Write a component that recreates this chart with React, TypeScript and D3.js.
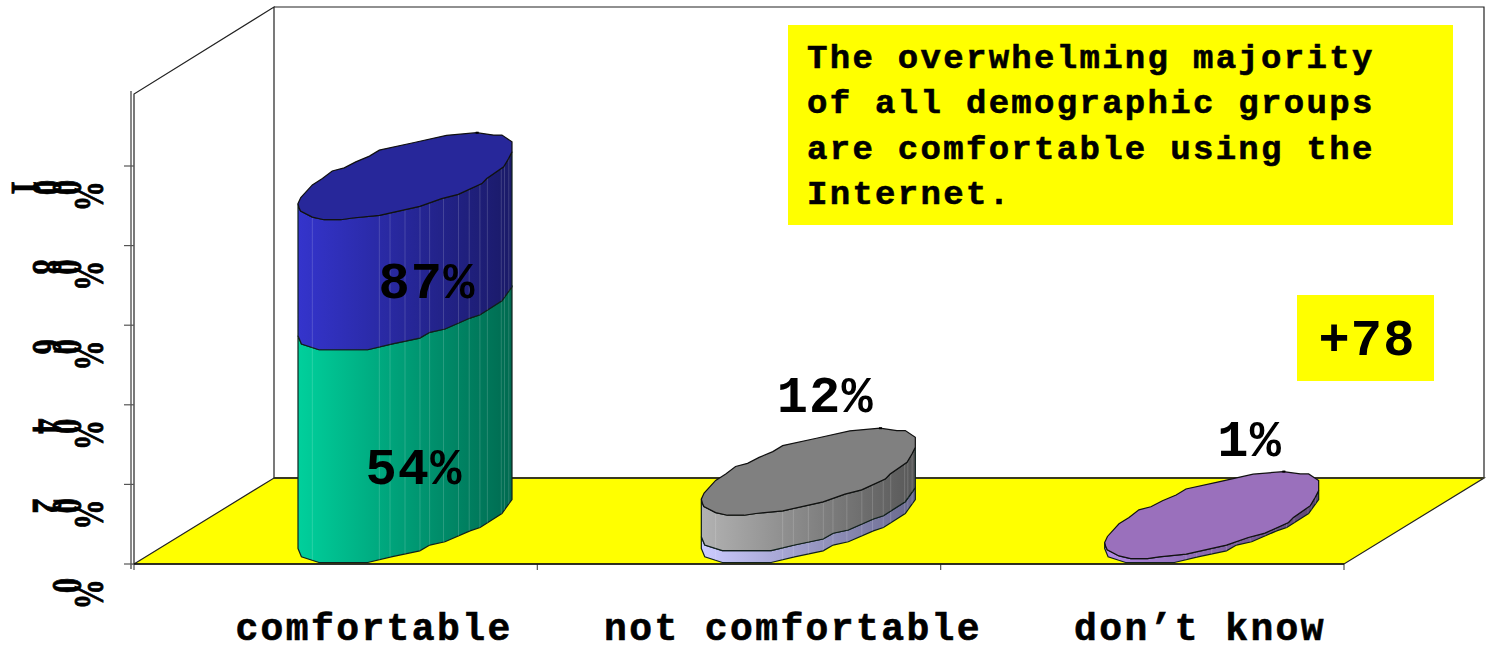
import React from 'react';
import * as d3 from 'd3';

const width = 1489;
const height = 645;

const categories = ['comfortable', 'not comfortable', 'don\u2019t know'];
// each bar is a stack of segments, bottom first
const lowerValues = [54, 3, 1];
const upperValues = [33, 9, 0];
const barLabels = ['54%', '12%', '1%'];
const upperLabels = ['87%', '', ''];
const yTicks = [0, 20, 40, 60, 80, 100];
const noteLines = [
  'The overwhelming majority',
  'of all demographic groups',
  'are comfortable using the',
  'Internet.',
];

// hand-traced footprint of the bar, in unit coords (u across, v front-to-back)
const backArc: [number, number][] = [
  [0, 0.815], [0.013, 0.746], [0.067, 0.6], [0.114, 0.527], [0.16, 0.44], [0.216, 0.404],
  [0.27, 0.335], [0.334, 0.269], [0.38, 0.2], [0.538, 0.115], [0.694, 0.03], [0.835, 0],
  [0.914, 0.027], [0.953, 0.027], [1, 0.104],
];
const faceFront: [number, number][] = [
  [0, 0.815], [0.005, 0.862], [0.012, 0.9], [0.067, 0.97], [0.122, 1], [0.2, 1],
  [0.255, 0.98], [0.381, 0.95], [0.569, 0.846], [0.671, 0.758], [0.749, 0.708], [0.859, 0.585],
  [0.882, 0.527], [0.961, 0.392], [0.984, 0.296], [1, 0.219],
];
const sideFront: [number, number][] = [
  [0, 0.84], [0.016, 0.935], [0.098, 1], [0.326, 1], [0.436, 0.935], [0.569, 0.866],
  [0.616, 0.8], [0.687, 0.762], [0.804, 0.636], [0.851, 0.598], [0.953, 0.437], [1, 0.276],
];
const facets = [0.067, 0.38, 0.43, 0.5, 0.57, 0.615, 0.68, 0.75, 0.8, 0.85, 0.885, 0.95, 0.965, 0.985];

const palettes = [
  { lower: ['#00d09c', '#006a50'], upper: ['#3434cc', '#1a1a68'], top: '#27279a' },
  { lower: ['#ccccff', '#68688c'], upper: ['#b2b2b2', '#585858'], top: '#808080' },
  { lower: ['#b48ae6', '#5c4672'], upper: ['#b48ae6', '#5c4672'], top: '#9a70bc' },
];

const floorLeft = 134;
const floorRight = 1344;
const floorFront = 564;
const floorBack = 478;
const wallTop = 7;
const depthX = 140;

const x = d3.scaleBand<string>().domain(categories).range([floorLeft, floorRight]);
const yAxis = d3.scaleLinear().domain([0, 100]).range([564, 166]);
const yBar = d3.scaleLinear().domain([0, 100]).range([562.5, 168.5]);
const barOffset = 164;
const barWidth = 214;
const barDepth = 87;

const line = d3.line<[number, number]>();
const sideV = d3.scaleLinear().domain(sideFront.map(p => p[0])).range(sideFront.map(p => p[1]));
const faceV = d3.scaleLinear().domain(faceFront.map(p => p[0])).range(faceFront.map(p => p[1]));

const place = (cat: string, level: number, pts: [number, number][]) =>
  pts.map(([u, v]) => [
    (x(cat) as number) + barOffset + u * barWidth,
    yBar(level) - barDepth + v * barDepth,
  ] as [number, number]);

const Side = ({ cat, from, to, fill, capped }: { cat: string; from: number; to: number; fill: string; capped: boolean }) => {
  const bottom = place(cat, from, sideFront);
  const upper = place(cat, to, capped ? faceFront : sideFront).reverse();
  const vTop = capped ? faceV : sideV;
  return (
    <g>
      <path d={line([...bottom, ...upper]) + 'Z'} fill={fill} stroke="#10201c" strokeWidth={1.2} />
      {facets.map(u => {
        const px = (x(cat) as number) + barOffset + u * barWidth;
        return (
          <line
            key={u}
            x1={px}
            x2={px}
            y1={yBar(from) - barDepth + sideV(u) * barDepth}
            y2={yBar(to) - barDepth + vTop(u) * barDepth}
            stroke="#fff"
            strokeOpacity={0.16}
          />
        );
      })}
    </g>
  );
};

// axis glyphs are turned a quarter clockwise and squeezed along the baseline
const RotatedLabel = ({ value, y }: { value: number; y: number }) => {
  const chars = `${value}%`.split('');
  return (
    <g fontFamily="'Liberation Serif'" fontWeight="bold" fontSize={43} fill="#000" stroke="#000" strokeWidth={0.9}>
      {chars.map((c, i) => {
        const fromEnd = chars.length - 1 - i;
        const cx = fromEnd === 0 ? 75 : 53 - (fromEnd - 1) * 20.5;
        const cy = y + (fromEnd === 0 ? 30 : 21.5);
        return (
          <text key={i} textAnchor="middle" transform={`translate(${cx},${cy}) rotate(90) scale(0.7,1)`}>
            {c}
          </text>
        );
      })}
    </g>
  );
};

export default function App() {
  return (
    <svg
      width={width}
      height={height}
      style={{ position: 'absolute', left: 0, top: 0, background: '#fff' }}
    >
      <defs>
        {palettes.flatMap((p, i) =>
          (['lower', 'upper'] as const).map(k => (
            <linearGradient key={`${k}${i}`} id={`${k}${i}`} x1="0" x2="1" y1="0" y2="0">
              <stop offset="0" stopColor={p[k][0]} />
              <stop offset="1" stopColor={p[k][1]} />
            </linearGradient>
          )),
        )}
      </defs>

      {/* floor */}
      <path
        d={line([
          [floorLeft, floorFront],
          [floorLeft + depthX, floorBack],
          [floorRight + depthX, floorBack],
          [floorRight, floorFront],
        ] as [number, number][]) + 'Z'}
        fill="#ffff00"
        stroke="#222"
        strokeWidth={1.2}
      />

      {/* walls */}
      <g stroke="#222" fill="none">
        <path d={`M${floorLeft},${floorFront}V94L${floorLeft + depthX},${wallTop}V${floorBack}`} strokeWidth={1.2} />
        <path d={`M${floorLeft + depthX},${wallTop}H${floorRight + depthX}V${floorBack}`} strokeWidth={1.2} />
        <line x1={floorLeft + depthX} x2={floorRight + depthX} y1={floorBack} y2={floorBack} stroke="#3a3a20" strokeWidth={2} />
      </g>

      {/* axes */}
      <line x1={131} x2={131} y1={91} y2={569} stroke="#888" strokeWidth={2} />
      <g stroke="#555" strokeWidth={1.2}>
        {yTicks.map(t => (
          <line key={t} x1={124} x2={134} y1={yAxis(t)} y2={yAxis(t)} />
        ))}
        {[...categories.map(c => x(c) as number), floorRight].map(v => (
          <line key={v} x1={v} x2={v} y1={564} y2={570} />
        ))}
      </g>
      <line x1={floorLeft} x2={floorRight} y1={floorFront} y2={floorFront} stroke="#111" strokeWidth={1.5} />

      {yTicks.map(t => (
        <RotatedLabel key={t} value={t} y={yAxis(t)} />
      ))}

      {/* bars */}
      {categories.map((cat, i) => {
        const lo = lowerValues[i];
        const total = lo + upperValues[i];
        const hasUpper = upperValues[i] > 0;
        const outline = [...place(cat, total, backArc), ...place(cat, total, faceFront).reverse()];
        const mark = place(cat, total, [backArc[11]])[0];
        return (
          <g key={cat}>
            <Side cat={cat} from={0} to={lo} fill={`url(#lower${i})`} capped={!hasUpper} />
            {hasUpper && <Side cat={cat} from={lo} to={total} fill={`url(#upper${i})`} capped />}
            <path d={line(outline) + 'Z'} fill={palettes[i].top} stroke="#111" strokeWidth={1.2} />
            <rect x={mark[0] - 1} y={mark[1] - 1} width={3} height={2} fill="#000" />
          </g>
        );
      })}

      <g fontFamily="'Liberation Mono'" fontWeight="bold">
        {/* data labels */}
        <g fontSize={52} letterSpacing={1.2} fill="#000" textAnchor="middle">
          <text x={(x(categories[0]) as number) + 280} y={484}>{barLabels[0]}</text>
          <text x={(x(categories[0]) as number) + 293} y={298}>{upperLabels[0]}</text>
          <text x={(x(categories[1]) as number) + 288} y={412}>{barLabels[1]}</text>
          <text x={(x(categories[2]) as number) + 309} y={456}>{barLabels[2]}</text>
        </g>

        {/* category labels */}
        <g fontSize={38} letterSpacing={2.4} textAnchor="middle" fill="#000" stroke="#000" strokeWidth={0.6}>
          {categories.map((c, i) => (
            <text key={c} x={[374, 793, 1200][i]} y={639.5}>{c}</text>
          ))}
        </g>

        {/* notes */}
        <rect x={788} y={25} width={665} height={200} fill="#ffff00" />
        <g fontSize={34} letterSpacing={2.3} fill="#000" stroke="#000" strokeWidth={0.6}>
          {noteLines.map((l, i) => (
            <text key={l} x={807} y={67.5 + i * 45.5}>{l}</text>
          ))}
        </g>
        <rect x={1297} y={295} width={137} height={86} fill="#ffff00" />
        <text x={1367} y={355} fontSize={52} letterSpacing={1.2} textAnchor="middle">+78</text>
      </g>
    </svg>
  );
}
